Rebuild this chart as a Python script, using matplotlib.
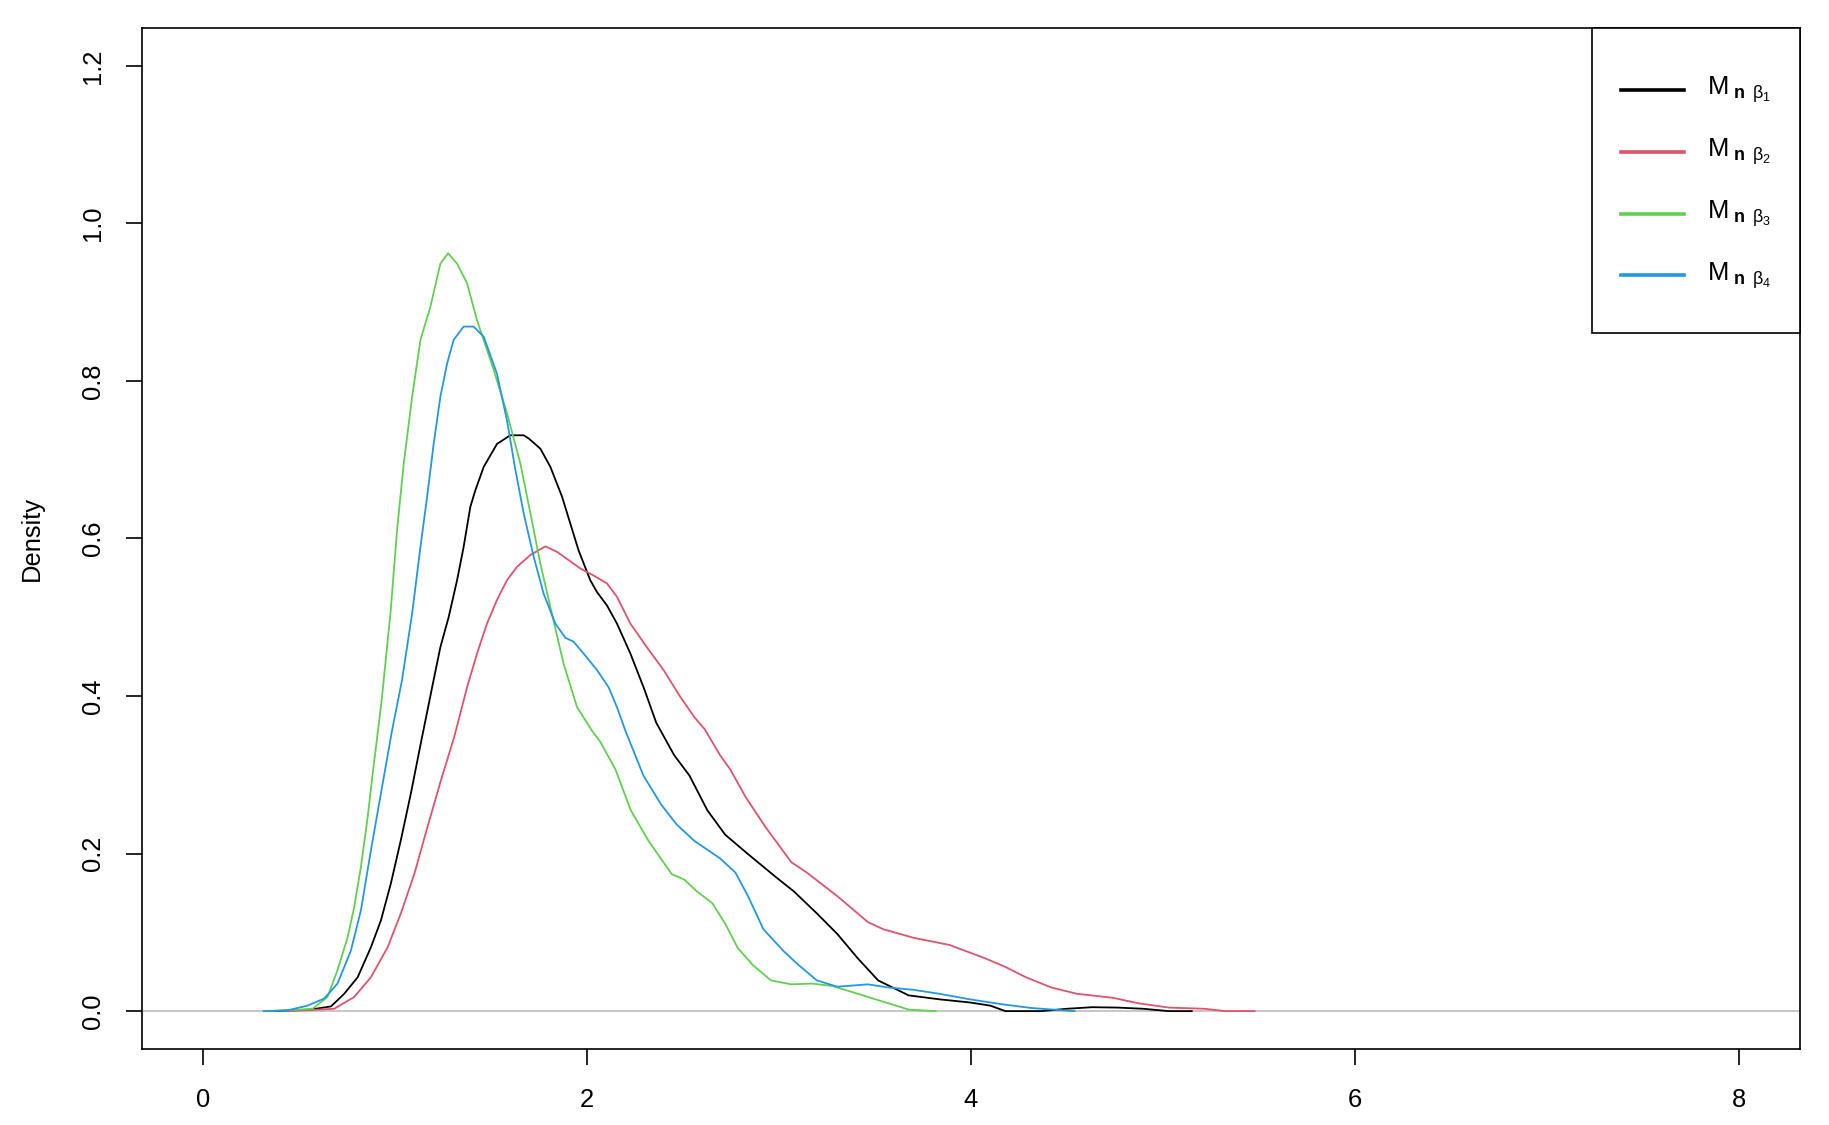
import matplotlib
matplotlib.use('Agg')
import numpy as np
import matplotlib.pyplot as plt
from matplotlib.legend_handler import HandlerLine2D

plt.rcParams['font.family'] = ['Liberation Sans', 'DejaVu Sans']
plt.rcParams['mathtext.fontset'] = 'custom'
plt.rcParams['mathtext.rm'] = 'Liberation Sans'
plt.rcParams['mathtext.it'] = 'Liberation Sans'
plt.rcParams['mathtext.bf'] = 'Liberation Sans:bold'

# density curves
x_b1 = [0.37, 0.56, 0.666, 0.735, 0.805, 0.874, 0.926, 0.978, 1.030, 1.082, 1.134, 1.193, 1.236, 1.279,
        1.323, 1.357, 1.392, 1.418, 1.462, 1.531, 1.600, 1.670, 1.696, 1.757, 1.809, 1.870, 1.913, 1.956,
        2.017, 2.052, 2.104, 2.156, 2.226, 2.295, 2.361, 2.454, 2.534, 2.627, 2.720, 2.826, 2.985, 3.078,
        3.198, 3.304, 3.411, 3.517, 3.676, 3.836, 3.995, 4.101, 4.181, 4.367, 4.500, 4.633, 4.766, 4.899,
        5.032, 5.151]
y_b1 = [0, 0.002, 0.006, 0.022, 0.043, 0.081, 0.115, 0.162, 0.217, 0.276, 0.340, 0.411, 0.462, 0.500,
        0.547, 0.589, 0.640, 0.661, 0.691, 0.720, 0.731, 0.731, 0.727, 0.714, 0.691, 0.653, 0.619, 0.585,
        0.547, 0.532, 0.515, 0.492, 0.454, 0.411, 0.366, 0.325, 0.299, 0.255, 0.224, 0.202, 0.170, 0.152,
        0.124, 0.098, 0.067, 0.039, 0.020, 0.015, 0.011, 0.007, 0, 0, 0.003, 0.005, 0.0045, 0.003,
        0, 0]

x_b2 = [0.45, 0.683, 0.787, 0.874, 0.961, 1.030, 1.100, 1.169, 1.239, 1.308, 1.375, 1.427, 1.479, 1.531,
        1.583, 1.635, 1.705, 1.783, 1.844, 1.896, 1.965, 2.034, 2.104, 2.156, 2.226, 2.312, 2.399, 2.486,
        2.560, 2.613, 2.693, 2.746, 2.826, 2.932, 3.065, 3.145, 3.304, 3.464, 3.543, 3.703, 3.889, 4.075,
        4.181, 4.287, 4.420, 4.553, 4.739, 4.872, 5.032, 5.218, 5.324, 5.478]
y_b2 = [0, 0.003, 0.018, 0.043, 0.081, 0.124, 0.174, 0.234, 0.293, 0.348, 0.411, 0.454, 0.492, 0.522,
        0.547, 0.564, 0.579, 0.590, 0.583, 0.574, 0.562, 0.553, 0.543, 0.526, 0.492, 0.462, 0.433, 0.399,
        0.373, 0.358, 0.325, 0.307, 0.272, 0.233, 0.189, 0.176, 0.146, 0.113, 0.104, 0.093, 0.084, 0.067,
        0.056, 0.043, 0.030, 0.022, 0.017, 0.010, 0.0045, 0.003, 0, 0]

x_b3 = [0.32, 0.44, 0.57, 0.648, 0.700, 0.753, 0.787, 0.822, 0.857, 0.883, 0.909, 0.932, 0.976, 1.010,
        1.045, 1.089, 1.132, 1.184, 1.236, 1.276, 1.323, 1.375, 1.427, 1.514, 1.583, 1.653, 1.705, 1.757,
        1.809, 1.878, 1.948, 2.026, 2.069, 2.148, 2.228, 2.321, 2.441, 2.507, 2.573, 2.653, 2.720, 2.786,
        2.866, 2.959, 3.065, 3.171, 3.278, 3.411, 3.543, 3.676, 3.817]
y_b3 = [0, 0.001, 0.003, 0.018, 0.052, 0.094, 0.132, 0.183, 0.246, 0.301, 0.352, 0.399, 0.505, 0.610,
        0.695, 0.780, 0.852, 0.894, 0.949, 0.962, 0.949, 0.924, 0.877, 0.814, 0.759, 0.695, 0.632, 0.568,
        0.513, 0.441, 0.386, 0.356, 0.342, 0.307, 0.255, 0.216, 0.174, 0.167, 0.152, 0.137, 0.111, 0.080,
        0.058, 0.039, 0.034, 0.035, 0.032, 0.022, 0.012, 0.002, 0]

x_b4 = [0.315, 0.44, 0.544, 0.631, 0.700, 0.770, 0.822, 0.874, 0.926, 0.984, 1.036, 1.089, 1.132, 1.167,
        1.201, 1.236, 1.271, 1.305, 1.357, 1.409, 1.462, 1.531, 1.583, 1.627, 1.670, 1.722, 1.774, 1.835,
        1.887, 1.930, 1.982, 2.052, 2.113, 2.156, 2.200, 2.294, 2.387, 2.467, 2.560, 2.693, 2.773, 2.839,
        2.919, 3.025, 3.105, 3.198, 3.304, 3.464, 3.570, 3.703, 3.836, 3.995, 4.155, 4.314, 4.540]
y_b4 = [0, 0.001, 0.007, 0.016, 0.035, 0.077, 0.128, 0.204, 0.276, 0.356, 0.420, 0.505, 0.589, 0.653,
        0.720, 0.780, 0.822, 0.852, 0.869, 0.869, 0.856, 0.809, 0.750, 0.687, 0.632, 0.577, 0.530, 0.492,
        0.474, 0.469, 0.454, 0.433, 0.411, 0.386, 0.356, 0.299, 0.262, 0.237, 0.216, 0.194, 0.176, 0.146,
        0.104, 0.076, 0.058, 0.039, 0.031, 0.034, 0.030, 0.027, 0.022, 0.015, 0.009, 0.004, 0]

series = [(x_b1, y_b1), (x_b2, y_b2), (x_b3, y_b3), (x_b4, y_b4)]
colors = ['#000000', '#DF536B', '#61D04F', '#2297E6']
labels = [r'$\mathrm{M}_{\ \mathbf{n}\;\;\beta_{%d}}$' % i for i in range(1, 5)]

xticks = [0, 2, 4, 6, 8]
yticks = [0.0, 0.2, 0.4, 0.6, 0.8, 1.0, 1.2]


# legend line sits a bit above the text baseline, like R's legend()
class LowLine(HandlerLine2D):
    def create_artists(self, legend, orig_handle, xdescent, ydescent, width, height, fontsize, trans):
        arts = super().create_artists(legend, orig_handle, xdescent, ydescent, width, height,
                                      fontsize, trans)
        for a in arts:
            a.set_ydata(np.full_like(np.asarray(a.get_ydata(), dtype=float), 0.21 * fontsize))
        return arts


fig = plt.figure(figsize=(18.29, 11.25), dpi=100)
ax = fig.add_axes([0.0775, 0.0676, 0.9066, 0.9075])

ax.axhline(0, color='#BEBEBE', lw=1.2, zorder=1)
for (xs, ys), col in zip(series, colors):
    ax.plot(xs, ys, color=col, lw=1.3, zorder=2)

ax.set_xlim(-0.32, 8.32)
ax.set_ylim(-0.048, 1.248)
ax.set_xticks(xticks)
ax.set_xticklabels([str(t) for t in xticks])
ax.set_yticks(yticks)
ax.set_yticklabels(['%.1f' % t for t in yticks], rotation=90, va='center')
ax.tick_params(direction='out', length=11.5, width=1.2, labelsize=18.4, color='black')
ax.tick_params(axis='x', pad=16.5)
ax.tick_params(axis='y', pad=15)
for s in ax.spines.values():
    s.set_linewidth(1.2)

ax.set_ylabel('Density', fontsize=18.4)
ax.yaxis.set_label_coords(-0.0593, 0.5)

handles = [plt.Line2D([], [], color=c, lw=2.6) for c in colors]
leg = ax.legend(handles, labels, loc='upper right', borderaxespad=0, fancybox=False,
                edgecolor='black', framealpha=1, fontsize=18.4, handlelength=2.45,
                handletextpad=0.9, borderpad=1.13, handleheight=3.35, labelspacing=0,
                handler_map={plt.Line2D: LowLine()})
leg.get_frame().set_linewidth(1.2)

plt.savefig('out.png', dpi=100)
